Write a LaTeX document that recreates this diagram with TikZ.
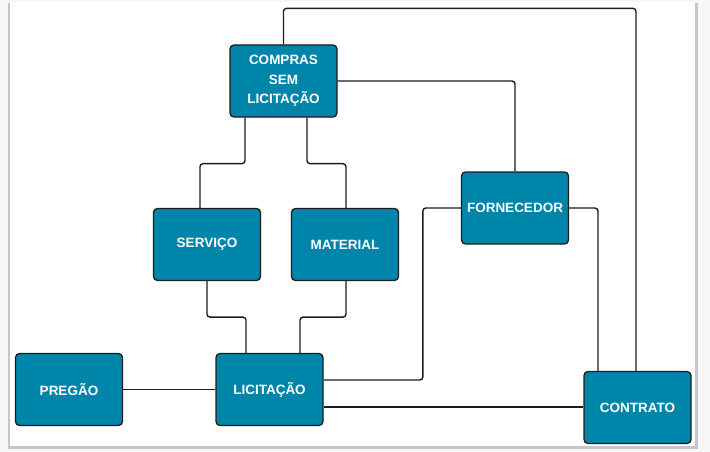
\documentclass[tikz,border=0pt]{standalone}
\usepackage{fontspec}
\setmainfont{Liberation Sans}
\usepackage{xcolor}
\definecolor{boxteal}{RGB}{0,133,170}
\definecolor{boxline}{RGB}{28,28,28}
\definecolor{pagegray}{RGB}{246,246,246}
\usepackage{tikz}
\usetikzlibrary{arrows.meta, positioning}

\tikzset{
  stage/.style={draw=boxline, fill=boxteal, line width=1.3pt, rounded corners=4pt,
                minimum width=107pt, minimum height=72pt, inner sep=0pt,
                text=white, align=center, font=\fontsize{13.5}{19.5}\selectfont\bfseries},
  link/.style={draw=boxline, line width=1.4pt, rounded corners=3pt}
}

\begin{document}
\begin{tikzpicture}[x=1pt, y=-1pt]
  % Page
  \useasboundingbox (0,0) rectangle (710,452);
  \fill[pagegray] (0,0) rectangle (710,452);
  \fill[gray!45] (8,3) rectangle (698,449);
  \fill[white] (10,2) rectangle (695,446);

  % Boxes
  \node[stage] (compras)    at (283.5,81)  {COMPRAS\\SEM\\LICITAÇÃO};
  \node[stage] (servico)    at (207,244.5) {SERVIÇO};
  \node[stage] (material)   at (345,244.5) {MATERIAL};
  \node[stage] (fornecedor) at (515,208)   {FORNECEDOR};
  \node[stage] (pregao)     at (69,389.5)  {PREGÃO};
  \node[stage] (licitacao)  at (269.5,389.5) {LICITAÇÃO};
  \node[stage] (contrato)   at (637.5,407.5) {CONTRATO};

  % Links from the top box
  \draw[link] (compras.north) -- ++(0,-36) -| ([xshift=-1.5pt]contrato.north);
  \draw[link] (compras.east) -| (fornecedor.north);
  \draw[link] ([xshift=-38.5pt]compras.south) -- ++(0,46) -| ([xshift=-7pt]servico.north);
  \draw[link] ([xshift=23.5pt]compras.south) -- ++(0,46) -| ([xshift=1pt]material.north);

  % Links into LICITACAO
  \draw[link] (servico.south) -- ++(0,36) -| ([xshift=-23.5pt]licitacao.north);
  \draw[link] ([xshift=1pt]material.south) -- ++(0,36) -| ([xshift=30.5pt]licitacao.north);
  \draw[link] (pregao.east) -- (licitacao.west);
  \draw[link] (fornecedor.west) -- ++(-38,0) |- ([yshift=9.5pt]licitacao.east);

  % Links into CONTRATO
  \draw[link] (fornecedor.east) -| ([xshift=-39.5pt]contrato.north);
  \draw[link] ([yshift=-17.5pt]licitacao.east) -- ([yshift=-17.5pt]licitacao.east -| contrato.west);
\end{tikzpicture}
\end{document}
